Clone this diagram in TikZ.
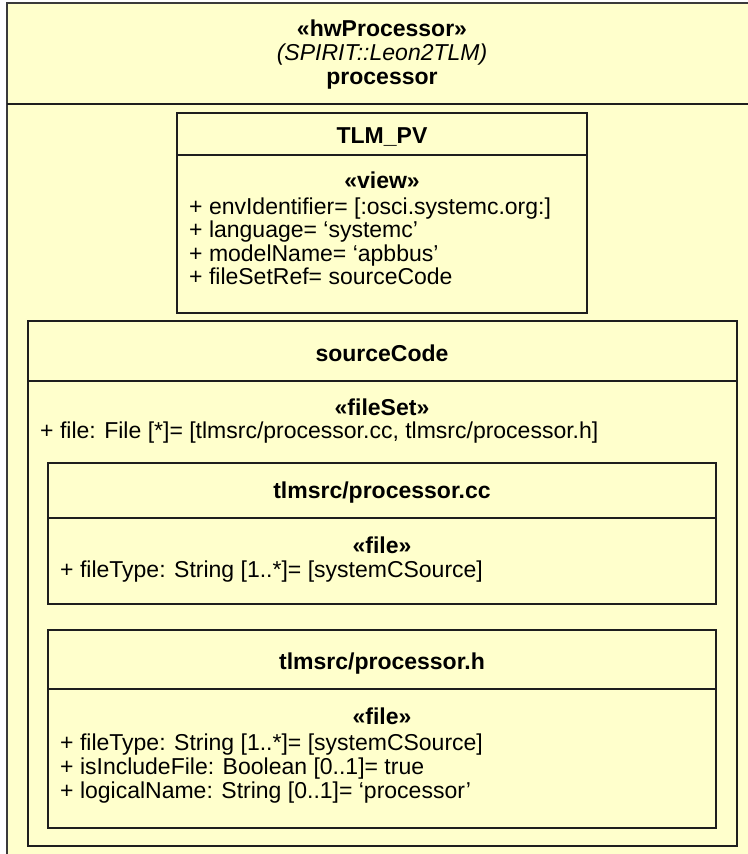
\documentclass[tikz,border=0pt]{standalone}
\usepackage{fontspec}
\setmainfont{Liberation Sans}
\definecolor{umlfill}{HTML}{FFFFCC}
\definecolor{umlline}{HTML}{1E1E1E}
\definecolor{outerline}{HTML}{3A3A3A}
\begin{document}
\begin{tikzpicture}[x=1pt,y=-1pt,
  box/.style={draw=umlline, line width=1.5pt, fill=umlfill},
  outerbox/.style={draw=outerline, line width=1.6pt, fill=umlfill},
  sepline/.style={draw=umlline, line width=1.1pt},
  txt/.style={inner sep=0pt, anchor=base, font=\fontsize{23}{24}\selectfont},
  ltxt/.style={txt, anchor=base west},
  btxt/.style={txt, font=\fontsize{23}{24}\selectfont\bfseries},
  itxt/.style={txt, font=\fontsize{23}{24}\selectfont\itshape}]
\useasboundingbox (0,0) rectangle (747,854);
\fill[white] (0,0) rectangle (747,854);
% outer hwProcessor box (cropped at right and bottom)
\path[outerbox] (7,3) rectangle (758,872);
\draw[sepline] (7,104) -- (758,104);
\node[btxt] (st) at (382,36) {«hwProcessor»};
\node[itxt] (ty) at (382,60) {(SPIRIT::Leon2TLM)};
\node[btxt] (nm) at (382,84) {processor};
% TLM_PV
\path[box] (177,113) rectangle (587,313);
\draw[sepline] (177,155) -- (587,155);
\node[btxt] (tlm) at (382,143) {TLM\_PV};
\node[btxt] (view) at (382,188) {«view»};
\node[ltxt] (a1) at (189,214) {+ envIdentifier= [:osci.systemc.org:]};
\node[ltxt] (a2) at (189,237.5) {+ language= ‘systemc’};
\node[ltxt] (a3) at (189,261) {+ modelName= ‘apbbus’};
\node[ltxt] (a4) at (189,284.5) {+ fileSetRef= sourceCode};
% sourceCode
\path[box] (28,321) rectangle (737,846);
\draw[sepline] (28,381) -- (737,381);
\node[btxt] (sc) at (382,361) {sourceCode};
\node[btxt] (fs) at (382,415) {«fileSet»};
\node[ltxt] (f1) at (40,438.5) {+ file: File [*]= [tlmsrc/processor.cc, tlmsrc/processor.h]};
% processor.cc
\path[box] (48,463) rectangle (716,604);
\draw[sepline] (48,518) -- (716,518);
\node[btxt] (cc) at (382,498) {tlmsrc/processor.cc};
\node[btxt] (ccst) at (382,553) {«file»};
\node[ltxt] (cc1) at (60,577) {+ fileType: String [1..*]= [systemCSource]};
% processor.h
\path[box] (48,630) rectangle (716,828);
\draw[sepline] (48,689) -- (716,689);
\node[btxt] (hh) at (382,669) {tlmsrc/processor.h};
\node[btxt] (hst) at (382,724) {«file»};
\node[ltxt] (h1) at (60,750) {+ fileType: String [1..*]= [systemCSource]};
\node[ltxt] (h2) at (60,774) {+ isIncludeFile: Boolean [0..1]= true};
\node[ltxt] (h3) at (60,798) {+ logicalName: String [0..1]= ‘processor’};
\end{tikzpicture}
\end{document}
